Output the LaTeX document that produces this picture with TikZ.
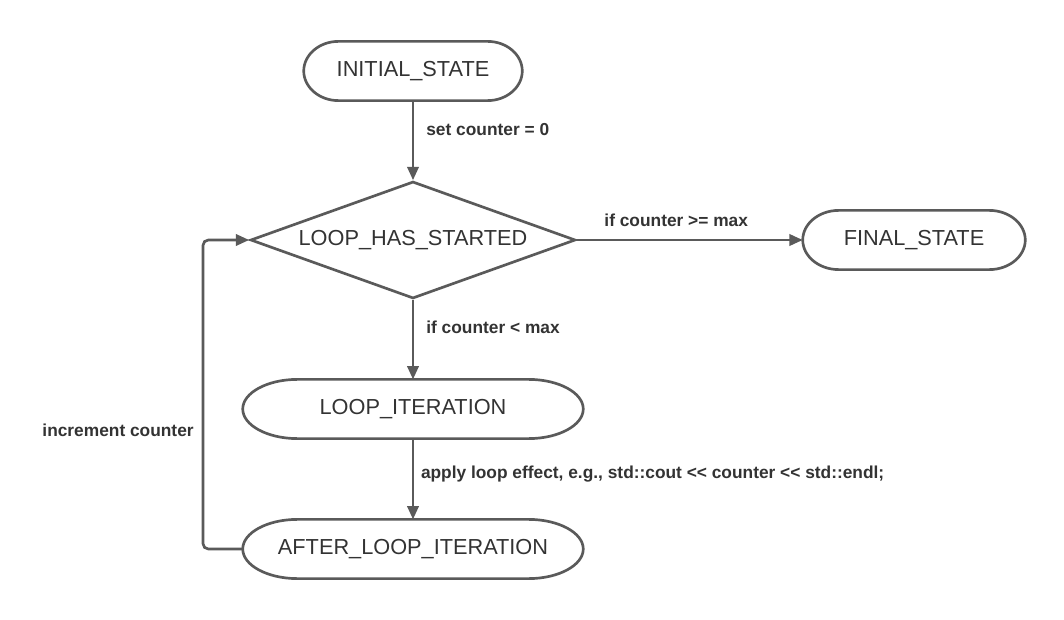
\documentclass[tikz,border=0pt]{standalone}
\usepackage{fontspec}
\setmainfont{Liberation Sans}
\usetikzlibrary{shapes.geometric,arrows.meta,calc}
\definecolor{linec}{HTML}{5A5A5A}
\definecolor{textc}{HTML}{333333}
\tikzset{
  term/.style={rectangle, draw=none, text=textc,
    minimum height=44pt, inner sep=0pt, font=\fontsize{16.3}{19}\selectfont},
  termline/.style={draw=linec, line width=2pt},
  decide/.style={diamond, draw=linec, line width=2pt, text=textc, aspect=2.78,
    minimum width=243.75pt, minimum height=87.75pt, inner sep=0pt,
    font=\fontsize{16.3}{19}\selectfont},
  conn/.style={draw=linec, line width=2pt, -{Triangle[length=10pt,width=8.5pt]}},
  lbl/.style={text=textc, font=\fontsize{13}{15}\bfseries\selectfont, inner sep=0pt}
}
% #1 node name, #2 horizontal radius of the ends, #3 vertical radius
\newcommand{\termoutline}[3]{%
  \draw[termline] ([xshift=#2]#1.north west) -- ([xshift=-#2]#1.north east)
    .. controls ([xshift=-0.448*#2]#1.north east) and ([yshift=0.552*#3]#1.east) .. (#1.east)
    .. controls ([yshift=-0.552*#3]#1.east) and ([xshift=-0.448*#2]#1.south east) .. ([xshift=-#2]#1.south east)
    -- ([xshift=#2]#1.south west)
    .. controls ([xshift=0.448*#2]#1.south west) and ([yshift=-0.552*#3]#1.west) .. (#1.west)
    .. controls ([yshift=0.552*#3]#1.west) and ([xshift=0.448*#2]#1.north west) .. cycle;}
\begin{document}
\begin{tikzpicture}[x=0.75pt,y=-0.75pt]
\useasboundingbox[fill=white] (0,0) rectangle (1064,620);
\node[term, minimum width=163.5pt] (init) at (413,71) {INITIAL\_STATE};
\node[decide] (dia) at (413,240) {LOOP\_HAS\_STARTED};
\node[term, minimum width=166.5pt] (final) at (914,240) {FINAL\_STATE};
\node[term, minimum width=255pt] (iter) at (413,409) {LOOP\_ITERATION};
\node[term, minimum width=255pt] (after) at (413,549) {AFTER\_LOOP\_ITERATION};
\termoutline{init}{26pt}{22pt}
\termoutline{final}{27pt}{22pt}
\termoutline{iter}{41pt}{22pt}
\termoutline{after}{41pt}{22pt}
\coordinate (lx) at (203,0);

\draw[conn] (init) -- node[lbl, anchor=west, pos=0.36, xshift=9pt] {set counter = 0} (dia.north);
\draw[conn] (dia.east) -- node[lbl, anchor=south, pos=0.44, yshift=9pt] {if counter >= max} (final.west);
\draw[conn] (dia.south) -- node[lbl, anchor=west, pos=0.34, xshift=9pt] {if counter < max} (iter.north);
\draw[conn] (iter.south) -- node[lbl, anchor=west, pos=0.44, xshift=5pt] {apply loop effect, e.g., std::cout <{}< counter <{}< std::endl;} (after.north);
\draw[conn, rounded corners=4pt] (after.west) -- (after.west -| lx) -- node[lbl, anchor=east, pos=0.385, xshift=-6pt] {increment counter} (dia.west -| lx) -- (dia.west);
\end{tikzpicture}
\end{document}
